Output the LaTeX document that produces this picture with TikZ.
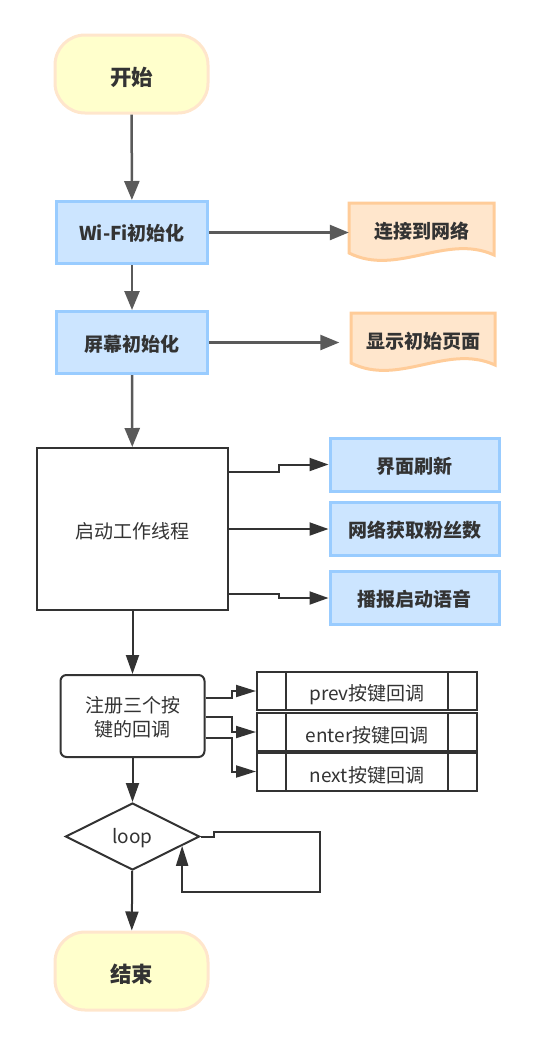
\documentclass[tikz,border=0pt]{standalone}
\usepackage{fontspec}
\setmainfont{Noto Sans CJK SC}
\usetikzlibrary{arrows.meta,shapes.geometric,backgrounds,calc}
\definecolor{txt}{HTML}{333333}
\definecolor{termfill}{HTML}{FFFFCC}
\definecolor{termline}{HTML}{FFE6CC}
\definecolor{bluefill}{HTML}{CCE5FF}
\definecolor{blueline}{HTML}{99CCFF}
\definecolor{docfill}{HTML}{FFE6CC}
\definecolor{docline}{HTML}{FFCC99}
\definecolor{arrgray}{HTML}{5A5A5A}
\definecolor{dark}{HTML}{333333}
\newcommand{\dn}[2]{\raisebox{-#1}[\height][\depth]{#2}}
\begin{document}
\begin{tikzpicture}[x=1pt,y=-1pt,
  term/.style={rectangle, rounded corners=30pt, fill=termfill, draw=termline, line width=3pt,
    minimum width=153pt, minimum height=78pt, text=txt,
    font=\bfseries\fontsize{21.5}{26}\selectfont},
  bluebox/.style={rectangle, fill=bluefill, draw=blueline, line width=3pt,
    minimum width=151pt, minimum height=62pt, text=txt,
    font=\bfseries\fontsize{19}{23}\selectfont},
  smallblue/.style={bluebox, minimum width=169pt, minimum height=53pt},
  doctext/.style={rectangle, minimum width=145pt, minimum height=56pt, text=txt,
    font=\bfseries\fontsize{19}{23}\selectfont},
  docdraw/.style={fill=docfill, draw=docline, line width=3pt},
  plainbox/.style={rectangle, draw=dark, line width=2pt, fill=white, text=txt,
    font=\fontsize{19}{23.5}\selectfont},
  procbox/.style={plainbox, minimum width=220pt, minimum height=38pt, inner sep=0pt},
  garrow/.style={draw=arrgray, line width=2.5pt, -{Triangle[length=19pt,width=15pt]}},
  darrow/.style={draw=dark, line width=2pt, -{Triangle[length=19pt,width=13pt]}},
  sarrow/.style={draw=dark, line width=2pt, -{Triangle[length=20pt,width=12pt]}}
]
\useasboundingbox (0,0) rectangle (536,1045);

% terminators
\node[term] (start) at (131.5,74) {\dn{3pt}{开始}};
\node[term] (end) at (131.5,971) {\dn{3pt}{结束}};

% init boxes
\node[bluebox] (wifi) at (132,232.5) {\dn{1pt}{Wi-Fi初始化}};
\node[bluebox] (screen) at (132,342.5) {\dn{1.5pt}{屏幕初始化}};

% documents
\begin{scope}[on background layer]
\draw[docdraw, shift={(349,203)}] (0,0) -- (145,0) -- (145,52)
  .. controls (97,30) and (48,74) .. (0,50) -- cycle;
\draw[docdraw, shift={(351,313)}] (0,0) -- (144,0) -- (144,52)
  .. controls (96,30) and (48,74) .. (0,50) -- cycle;
\end{scope}
\node[doctext] (conn) at (421.5,231) {连接到网络};
\node[doctext] (show) at (423,341) {显示初始页面};

% thread
\node[plainbox, minimum width=191pt, minimum height=162pt] (thread) at (132.5,529) {\dn{2pt}{启动工作线程}};
\node[smallblue] (r1) at (414.5,464.5) {\dn{1.5pt}{界面刷新}};
\node[smallblue] (r2) at (414.5,529) {\dn{1.5pt}{网络获取粉丝数}};
\node[smallblue] (r3) at (414.5,598) {\dn{1.5pt}{播报启动语音}};

% register
\node[plainbox, rounded corners=6pt, minimum width=144pt, minimum height=82pt] (reg) at (132.5,716)
  {\dn{4pt}{\begin{tabular}{@{}c@{}}注册三个按\\键的回调\end{tabular}}};
\node[procbox] (p1) at (367,691) {\dn{3.5pt}{prev按键回调}};
\node[procbox] (p2) at (367,732) {\dn{3.5pt}{enter按键回调}};
\node[procbox] (p3) at (367,771.5) {\dn{3.5pt}{next按键回调}};
\foreach \p in {p1,p2,p3}{
  \draw[dark, line width=2pt] ([xshift=30pt]\p.north west) -- ([xshift=30pt]\p.south west);
  \draw[dark, line width=2pt] ([xshift=-30pt]\p.north east) -- ([xshift=-30pt]\p.south east);
}

% loop
\node[diamond, draw=dark, line width=2pt, fill=white, aspect=2, inner sep=0pt,
  minimum width=134pt, minimum height=67pt, text=txt,
  font=\fontsize{19}{23}\selectfont] (loop) at (132.5,836.5) {\dn{2pt}{loop}};

% connectors
\draw[garrow] (start) -- (wifi);
\draw[garrow] (wifi) -- (screen);
\draw[garrow] (screen) -- (thread);
\draw[garrow] (wifi.east) -- (wifi.east -| conn.west);
\draw[garrow] (screen.east) -- ([xshift=-11pt]screen.east -| show.west);

\draw[darrow] ([yshift=57pt]thread.east) -- ++(50,0) |- (r1.west);
\draw[darrow] (thread.east) -- (r2.west);
\draw[darrow] ([yshift=-65pt]thread.east) -- ++(50,0) |- (r3.west);

\draw[darrow] (thread) -- (reg);
\draw[sarrow] ([yshift=18pt]reg.east) -- ++(26,0) |- (p1.west);
\draw[sarrow] ([yshift=-1pt]reg.east) -- ++(26,0) |- (p2.west);
\draw[sarrow] ([yshift=-22pt]reg.east) -- ++(26,0) |- (p3.west);

\draw[darrow] (reg) -- (loop);
\draw[darrow] (loop) -- (end);
\draw[sarrow] (loop.east) -- ++(13,0) -- ++(0,-5) -- ++(106,0) -- ++(0,60)
  -| ($(loop.east)!0.27!(loop.south)$);
\end{tikzpicture}
\end{document}
